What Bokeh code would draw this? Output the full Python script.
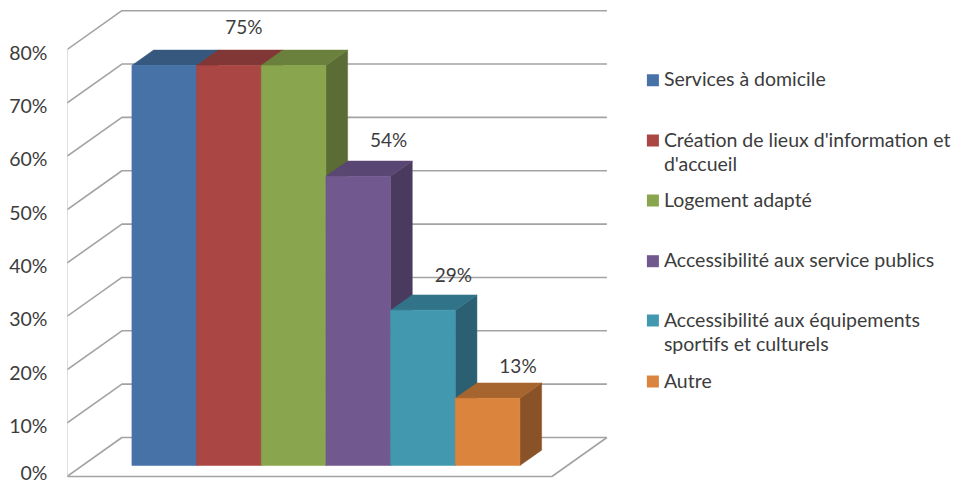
from bokeh.plotting import figure
from bokeh.embed import file_html
from bokeh.resources import INLINE
from bokeh.models import FixedTicker, Range1d
from bokeh.core.properties import value

# ---- data ----
categories = ["Services à domicile", "Création de lieux d'information et\nd'accueil", "Logement adapté",
              "Accessibilité aux service publics", "Accessibilité aux équipements\nsportifs et culturels", "Autre"]
values = [75, 75, 75, 54.2, 29.1, 12.6]
value_labels = ["", "75%", "", "54%", "29%", "13%"]
label_dx = [0.5, 0.73, 0.5, 0.97, 0.97, 0.97]
label_dy = [0, 7.3, 0, 6.95, 6.75, 6.2]
tick_values = [0, 10, 20, 30, 40, 50, 60, 70, 80]
front_colors = ["#4672a8", "#aa4643", "#89a54e", "#71588f", "#4198af", "#db843d"]
top_colors = ["#36587f", "#813735", "#6a803d", "#5a4672", "#31748a", "#a6642e"]
side_colors = ["#2c4869", "#6d2d2b", "#5b6d34", "#4a3a5e", "#2a6072", "#8a5327"]
grid_color = "#a3a3a3"
text_color = "#3c3c3c"

# ---- projection layout (1 x unit = one bar, 1 y unit = 1 %) ----
PXX, PXY = 64.67, 5.335
W, H = 954, 483
BAR_DX, BAR_DY = 21.7 / PXX, 15.3 / PXY
BASE = 11 / PXY
WALL_L, WALL_R = -65 / PXX, 420 / PXX
WALL_DX, WALL_DY = 55 / PXX, 39 / PXY
LABEL_SHIFT = 2.5 / PXY

FRAME_LEFT = 67
x_start = WALL_L + 0.6 / PXX
x_end = x_start + (W - FRAME_LEFT) / PXX
y_start = -7 / PXY
y_end = y_start + H / PXY

p = figure(width=W, height=H, output_backend="svg", toolbar_location=None,
           x_range=Range1d(x_start, x_end), y_range=Range1d(y_start, y_end),
           x_axis_location=None, y_axis_location="left",
           min_border_left=FRAME_LEFT, min_border_right=0, min_border_top=0, min_border_bottom=0)
p.outline_line_color = None
p.grid.visible = False
p.background_fill_color = "white"

ax = p.yaxis[0]
ax.ticker = FixedTicker(ticks=[t - LABEL_SHIFT for t in tick_values])
ax.major_label_overrides = {t - LABEL_SHIFT: f"{t}%" for t in tick_values}
ax.axis_line_color = None
ax.major_tick_line_color = None
ax.minor_tick_line_color = None
ax.major_label_standoff = 14
ax.major_label_text_font = "Lato"
ax.major_label_text_font_size = "19.5px"
ax.major_label_text_color = text_color

# walls
for t in tick_values:
    p.line([WALL_L, WALL_L + WALL_DX, WALL_R + WALL_DX],
           [t, t + WALL_DY, t + WALL_DY], line_color=grid_color, line_width=1.6)
p.line([WALL_L, WALL_L], [0, tick_values[-1]], line_color=grid_color, line_width=1.6)
p.line([WALL_L, WALL_R, WALL_R + WALL_DX], [0, 0, WALL_DY], line_color=grid_color, line_width=1.6)

# bars, left to right
for i, v in enumerate(values):
    x0, x1 = i, i + 1
    b, t = BASE, BASE + v
    p.patch([x1, x1 + BAR_DX, x1 + BAR_DX, x1], [b, b + BAR_DY, t + BAR_DY, t],
            fill_color=side_colors[i], line_color=side_colors[i], line_width=0.5)
    p.patch([x0, x0 + BAR_DX, x1 + BAR_DX, x1], [t, t + BAR_DY, t + BAR_DY, t],
            fill_color=top_colors[i], line_color=top_colors[i], line_width=0.5)
    p.patch([x0, x1, x1, x0], [b, b, t, t],
            fill_color=front_colors[i], line_color=front_colors[i], line_width=0.5)

# value labels
for i, v in enumerate(values):
    if value_labels[i]:
        p.text([i + label_dx[i]], [BASE + v + label_dy[i]], text=[value_labels[i]],
               text_font=value("Lato"), text_font_size="19px", text_color=text_color,
               text_align="center", text_baseline="middle")

# legend
LEG_SWATCH_X = (653 - 132) / PXX
LEG_TEXT_X = (664 - 132) / PXX
leg_px_y = [79.7, 140, 200, 260.7, 320, 381]
TEXT_LIFT = 1.5 / PXY
LINE_H = 24.5
for name, col, py in zip(categories, front_colors, leg_px_y):
    yv = (476 - py) / PXY
    p.scatter([LEG_SWATCH_X], [yv], marker="square", size=12, fill_color=col, line_color=None)
    for k, line in enumerate(name.split("\n")):
        p.text([LEG_TEXT_X], [yv + TEXT_LIFT - k * LINE_H / PXY], text=[line],
               text_font=value("Lato"), text_font_size="19.5px", text_color=text_color,
               text_align="left", text_baseline="middle")

open("out.html", "w").write(file_html(p, INLINE))
